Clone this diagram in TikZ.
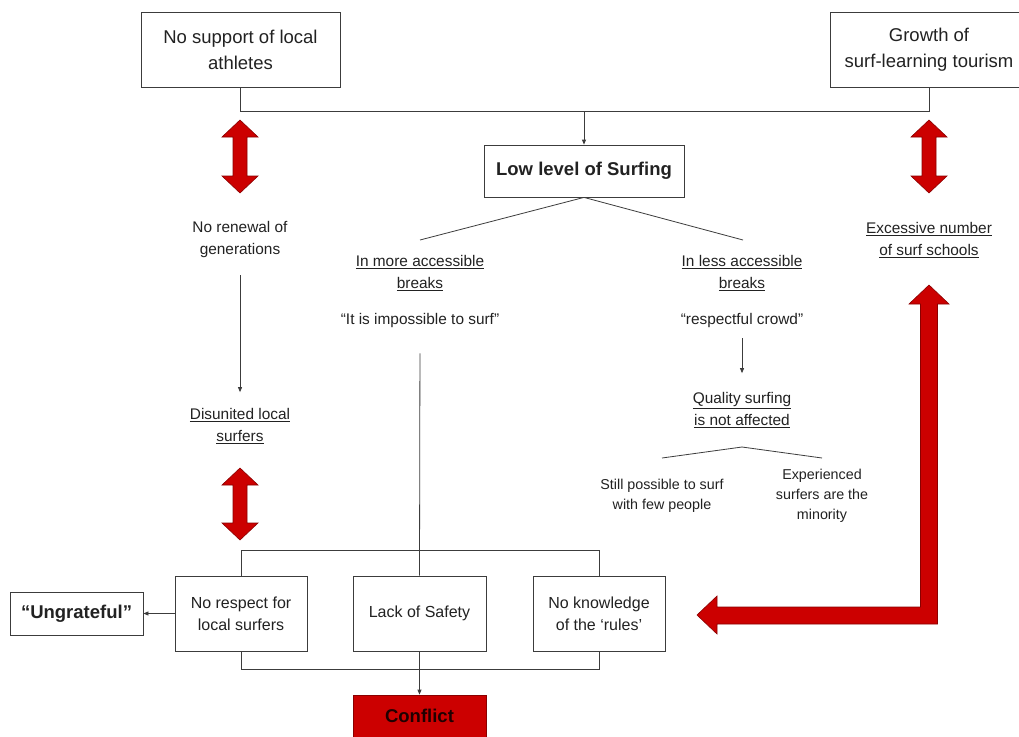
\documentclass[tikz,border=0pt]{standalone}
\usepackage{fontspec}
\setmainfont{Liberation Sans}
\usetikzlibrary{arrows.meta}
\definecolor{ink}{HTML}{222222}
\definecolor{linegray}{HTML}{3C3C3C}
\definecolor{alarm}{HTML}{CC0000}
\definecolor{alarmedge}{HTML}{8A0000}
\newcommand\bigtxt{\fontsize{18.5}{26}\selectfont}
\newcommand\boxtxt{\fontsize{16}{22}\selectfont}
\newcommand\midtxt{\fontsize{15.4}{22}\selectfont}
\newcommand\smalltxt{\fontsize{14.3}{20}\selectfont}
\begin{document}
\begin{tikzpicture}[x=1pt,y=-1pt,
  every node/.style={text=ink},
  box/.style={draw=linegray, line width=0.8pt, fill=white, align=center, inner sep=0pt, font=\bigtxt},
  note/.style={align=center, inner sep=0pt, font=\midtxt},
  smallnote/.style={align=center, inner sep=0pt, font=\smalltxt},
  link/.style={draw=linegray, line width=0.8pt},
  arrowlink/.style={link, -{Triangle[length=5pt,width=4pt]}},
  bigarrow/.style={fill=alarm, draw=alarmedge, line width=0.6pt, line join=miter}
]
\clip (0,0) rectangle (1019,736);
\fill[white] (0,0) rectangle (1019,736);

% top row causes
\node[box, minimum width=199pt, minimum height=75pt] (athletes) at (240.5,49.5) {No support of local\\athletes};
\node[box, minimum width=198pt, minimum height=75pt] (tourism) at (929,49.5) {Growth of\\surf-learning tourism};

% central problem
\node[box, font=\bigtxt\bfseries, minimum width=200pt, minimum height=52pt] (low) at (584,171) {Low level of Surfing};

\coordinate (topjoin) at (low.north |- 0,111);
\draw[link] (athletes.south) -- ++(0,24) -| (tourism.south);
\draw[arrowlink] (topjoin) -- (low.north);

% left column
\node[note] (renew) at (240,240) {No renewal of\\generations};
\node[note] (disunited) at (240,426) {\underline{Disunited local}\\\underline{surfers}};
\draw[arrowlink, shorten <=17pt, shorten >=16pt] (renew.south) -- (disunited.north);

% middle column
\node[note] (more) at (420,273) {\underline{In more accessible}\\\underline{breaks}};
\node[note] (impossible) at (420,321) {“It is impossible to surf”};
\coordinate (moretop) at (420,240);
\draw[link] (low.south) -- (moretop);

% right column
\node[note] (less) at (742,273) {\underline{In less accessible}\\\underline{breaks}};
\node[note] (respectful) at (742,321) {“respectful crowd”};
\node[note] (quality) at (742,410) {\underline{Quality surfing}\\\underline{is not affected}};
\coordinate (lesstop) at (743,240);
\draw[link] (low.south) -- (lesstop);
\draw[arrowlink, shorten <=10pt, shorten >=19pt] (respectful.south) -- (quality.north);

\coordinate (qsplit) at (742,447);
\coordinate (qleft) at (662,458);
\coordinate (qright) at (822,458);
\draw[link] (qleft) -- (qsplit) -- (qright);
\node[smallnote] (still) at (662,496) {Still possible to surf\\with few people};
\node[smallnote] (experienced) at (822,496) {Experienced\\surfers are the\\minority};

% far right column
\node[note] (excess) at (929,240) {\underline{Excessive number}\\\underline{of surf schools}};

% consequences
\node[box, font=\boxtxt, minimum width=132pt, minimum height=75pt] (respect) at (241,613.5) {No respect for\\local surfers};
\node[box, font=\boxtxt, minimum width=133pt, minimum height=75pt] (safety) at (419.5,613.5) {Lack of Safety};
\node[box, font=\boxtxt, minimum width=132pt, minimum height=75pt] (knowledge) at (599,613.5) {No knowledge\\of the ‘rules’};
\node[box, font=\bigtxt\bfseries, minimum width=133pt, minimum height=43pt] (ungrateful) at (76.5,613.5) {“Ungrateful”};
\node[box, fill=alarm, draw=alarmedge, font=\bigtxt\bfseries, text=black!85!alarm, minimum width=133pt, minimum height=42pt] (conflict) at (419.5,716) {Conflict};

\draw[link] (respect.north) -- ++(0,-25) -| (knowledge.north);
\draw[link] (respect.south) -- ++(0,18) -| (knowledge.south);
\draw[link, shorten <=25pt] (impossible.south) -- (safety.north);
\draw[arrowlink] (safety.south) -- (conflict.north);
\draw[arrowlink] (respect.west) -- (ungrateful.east);

% red double arrows
\foreach \cx/\ya/\yb in {240/120/193, 240/468/540, 929/120/193}{
  \filldraw[bigarrow] (\cx,\ya) -- (\cx+18,\ya+17) -- (\cx+7,\ya+17) -- (\cx+7,\yb-17)
    -- (\cx+18,\yb-17) -- (\cx,\yb) -- (\cx-18,\yb-17) -- (\cx-7,\yb-17)
    -- (\cx-7,\ya+17) -- (\cx-18,\ya+17) -- cycle;
}

% bent red arrow from the surf schools to the missing rules
\filldraw[bigarrow] (929,285) -- (949,304) -- (937.5,304) -- (937.5,624) -- (717,624)
  -- (717,634) -- (697,615) -- (717,596) -- (717,607) -- (920.5,607) -- (920.5,304)
  -- (909,304) -- cycle;
\end{tikzpicture}
\end{document}
